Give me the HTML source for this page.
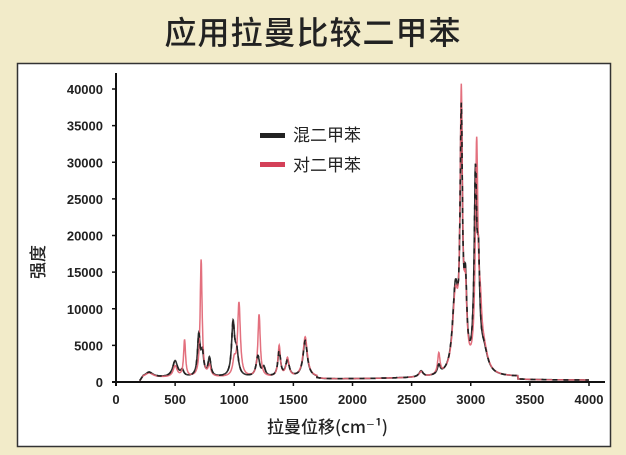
<!DOCTYPE html>
<html><head><meta charset="utf-8"><style>
body{margin:0;width:626px;height:455px;background:#f2ebc9;overflow:hidden;font-family:"Liberation Sans","Noto Sans CJK SC",sans-serif}
</style></head><body>
<svg width="626" height="455" xmlns="http://www.w3.org/2000/svg" style="position:absolute;left:0;top:0">
<text x="313" y="44" text-anchor="middle" font-size="32" font-weight="500" font-family="Noto Sans CJK SC, sans-serif" fill="#222" letter-spacing="1">应用拉曼比较二甲苯</text>
<rect x="17.5" y="63.5" width="593" height="383" fill="#fff" stroke="#333" stroke-width="1.5"/>
<g id="plot"></g>
<line x1="116" y1="73" x2="116" y2="386" stroke="#111" stroke-width="2"/>
<line x1="112" y1="382" x2="605" y2="382" stroke="#111" stroke-width="2"/>
<g id="ticks" font-size="13" font-weight="bold" fill="#222"></g>
<text x="267" y="433" font-size="17" font-weight="500" fill="#222" font-family="Noto Sans CJK SC, sans-serif">拉曼位移(cm⁻¹)</text>
<text transform="translate(44,262) rotate(-90)" font-size="17" font-weight="500" fill="#222" font-family="Noto Sans CJK SC, sans-serif" text-anchor="middle">强度</text>
<rect x="260" y="133" width="25" height="5" fill="#222"/>
<text x="293" y="141" font-size="17" fill="#222" font-family="Noto Sans CJK SC, sans-serif">混二甲苯</text>
<rect x="260" y="162" width="25" height="5" fill="#d44058"/>
<text x="293" y="171" font-size="17" fill="#222" font-family="Noto Sans CJK SC, sans-serif">对二甲苯</text>
</svg>
<script>
var X=function(v){return 116+v*(589-116)/4000},Y=function(v){return 382-v*293/40000};
var t=document.getElementById('ticks'),s='';
for(var i=0;i<=8;i++){var v=i*500;s+='<text x="'+X(v)+'" y="404" text-anchor="middle">'+v+'</text><line x1="'+X(v)+'" y1="382" x2="'+X(v)+'" y2="386" stroke="#111" stroke-width="1.5"/>';}
for(var i=0;i<=8;i++){var v=i*5000;s+='<text x="103" y="'+(Y(v)+5)+'" text-anchor="end">'+v+'</text><line x1="112" y1="'+Y(v)+'" x2="116" y2="'+Y(v)+'" stroke="#111" stroke-width="1.5"/>';}
t.innerHTML=s;
function curve(p){var d='';for(var x=200;x<=4000;x+=2){var y=0;for(var k=0;k<p.length;k++){var q=p[k],u=(x-q[0])/q[2];y+=q[1]/(1+u*u);}
var b=x<1700?600:(x<3400?350+200*(x-1700)/1000:250);if(x<230)b*=(x-200)/30;y+=b;
d+=(x==200?'M':'L')+X(x).toFixed(1)+','+Y(y).toFixed(1);}return d;}
var blk=[[280,700,40],[500,2200,25],[560,800,15],[700,5500,13],[730,3000,14],[790,2500,14],[990,7000,15],[1020,3000,18],[1200,2800,18],[1250,1200,15],[1380,3500,14],[1450,2200,18],[1600,5000,22],[2580,800,20],[2730,1200,14],[2870,11000,28],[2920,33000,12],[2955,10000,14],[3040,25000,13],[3065,12000,13],[3110,3000,40]];
var red=[[280,600,40],[500,1500,20],[580,5000,10],[720,16000,10],[790,1500,14],[1000,2000,15],[1040,10000,14],[1210,8500,12],[1380,4200,12],[1450,2500,15],[1600,5500,22],[2580,700,20],[2730,2800,12],[2870,10000,28],[2920,36000,12],[2955,9000,14],[3050,30000,13],[3080,6000,15],[3110,3000,40]];
var pl=document.getElementById('plot');
pl.innerHTML='<path d="'+curve(blk)+'" fill="none" stroke="#333" stroke-width="1.6"/><path d="'+curve(red)+'" fill="none" stroke="#e06070" stroke-width="1.5" opacity="0.9"/><path d="'+curve(blk)+'" fill="none" stroke="#222" stroke-width="1.6" stroke-dasharray="5 6"/>';
</script>
</body></html>
